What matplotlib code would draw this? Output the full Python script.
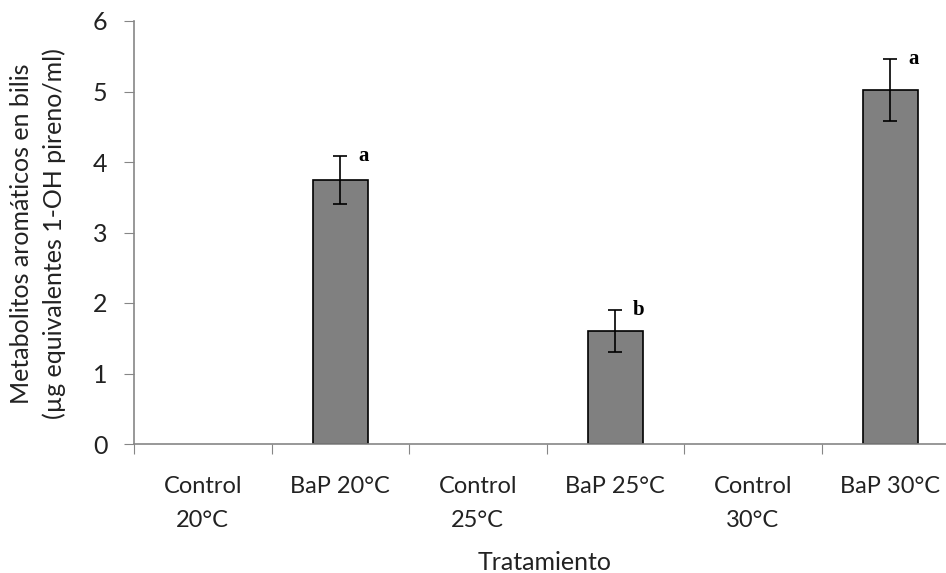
import matplotlib
matplotlib.use("Agg")
import matplotlib.pyplot as plt
import numpy as np

categories = ["Control\n20°C", "BaP 20°C", "Control\n25°C", "BaP 25°C", "Control\n30°C", "BaP 30°C"]
values = [0.0, 3.75, 0.0, 1.60, 0.0, 5.02]
errors = [0.0, 0.34, 0.0, 0.30, 0.0, 0.44]
letters = ["", "a", "", "b", "", "a"]

plt.rcParams['font.family'] = ['Lato', 'DejaVu Sans']

W, H = 946, 573
fig = plt.figure(figsize=(W/100, H/100), dpi=100)
ax = fig.add_axes([134/W, (H-444)/H, 825/W, 423/H])

x = np.arange(len(categories))
for i in range(len(categories)):
    if values[i] > 0:
        ax.bar(x[i], values[i], width=0.4, color='#808080', edgecolor='black', linewidth=1.2, zorder=2)
        ax.errorbar(x[i], values[i], yerr=errors[i], fmt='none', ecolor='black',
                    elinewidth=1.2, capsize=5, capthick=1.2, zorder=3)
        ax.text(x[i] + 0.17, values[i] + errors[i], letters[i], family=['Liberation Serif'],
                fontweight='bold', fontsize=15, ha='center', va='center')

ax.set_xlim(-0.5, len(categories) - 0.5)
ax.set_ylim(0, 6)
ax.set_yticks(range(0, 7))
ax.set_xticks(np.arange(-0.5, len(categories), 1.0))
ax.set_xticklabels([])
ax.set_xticks(x, minor=True)
ax.set_xticklabels(categories, minor=True, fontsize=17, color='#222222', linespacing=1.75)
ax.tick_params(axis='x', which='minor', length=0, pad=23)
ax.tick_params(axis='x', which='major', length=7, color='#868686', direction='out')
ax.tick_params(axis='y', length=7, color='#868686', labelsize=18, labelcolor='#222222', pad=12)

for s in ['top', 'right']:
    ax.spines[s].set_visible(False)
for s in ['left', 'bottom']:
    ax.spines[s].set_color('#868686')
    ax.spines[s].set_linewidth(1.2)

fig.text(38/W, 1 - 234/H, "Metabolitos aromáticos en bilis\n(µg equivalentes 1-OH pireno/ml)",
         rotation=90, ha='center', va='center', fontsize=18, color='#222222', linespacing=1.5)
fig.text(545/W, 1 - 562/H, "Tratamiento", ha='center', va='center', fontsize=18, color='#222222')

fig.savefig("out.png", dpi=100)
